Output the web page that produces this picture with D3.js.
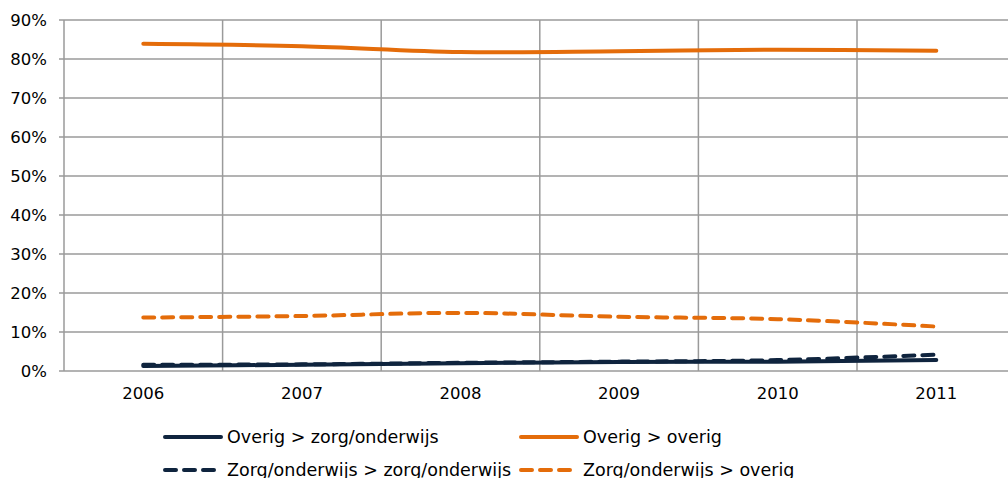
<!DOCTYPE html>
<html>
<head>
<meta charset="utf-8">
<script src="https://cdn.jsdelivr.net/npm/d3@7"></script>
<style>
  body { margin: 0; background: #fff; }
  text { font-family: "DejaVu Sans", Verdana, sans-serif; fill: #000; }
</style>
</head>
<body>
<div id="chart"></div>
<script>
// data
let years = ["2006", "2007", "2008", "2009", "2010", "2011"];
let overigZorg = [1.3, 1.6, 2.0, 2.3, 2.4, 2.8];
let overigOverig = [83.9, 83.3, 81.8, 82.0, 82.4, 82.1];
let zorgZorg = [1.6, 1.7, 2.1, 2.4, 2.8, 4.2];
let zorgOverig = [13.7, 14.1, 14.9, 13.9, 13.3, 11.4];
let yTicks = [0, 10, 20, 30, 40, 50, 60, 70, 80, 90];

let navy = "#0F243E";
let orange = "#E46C0A";
let grid = "#9a9a9a";

let series = [
    {name: "Overig > zorg/onderwijs", values: overigZorg, color: navy, dash: null},
    {name: "Overig > overig", values: overigOverig, color: orange, dash: null},
    {name: "Zorg/onderwijs > zorg/onderwijs", values: zorgZorg, color: navy, dash: "11,8"},
    {name: "Zorg/onderwijs > overig", values: zorgOverig, color: orange, dash: "11,8"}
];

let W = 1008, H = 478;
let plotLeft = 64, plotTop = 20, plotBottom = 371, plotRight = 1015.6;

let svg = d3.select("#chart")
    .append("svg")
        .attr("width", W)
        .attr("height", H);

// scales
let x = d3.scaleBand()
    .domain(years)
    .range([plotLeft, plotRight])
    .padding(0);

let y = d3.scaleLinear()
    .domain([0, 90])
    .range([plotBottom, plotTop]);

// horizontal grid
svg.append("g")
    .selectAll("line")
    .data(yTicks)
    .enter()
    .append("line")
    .attr("x1", plotLeft - 5)
    .attr("x2", plotRight)
    .attr("y1", d => y(d))
    .attr("y2", d => y(d))
    .attr("stroke", grid)
    .attr("stroke-width", 1.5);

// vertical grid on band boundaries
svg.append("g")
    .selectAll("line")
    .data(years)
    .enter()
    .append("line")
    .attr("x1", d => x(d))
    .attr("x2", d => x(d))
    .attr("y1", plotTop)
    .attr("y2", plotBottom)
    .attr("stroke", grid)
    .attr("stroke-width", 1.5);

// Y axis labels
svg.append("g")
    .selectAll("text")
    .data(yTicks)
    .enter()
    .append("text")
    .attr("x", 47)
    .attr("y", d => y(d))
    .attr("dy", "0.36em")
    .attr("text-anchor", "end")
    .style("font-size", "16.5px")
    .text(d => d + "%");

// X axis labels
svg.append("g")
    .selectAll("text")
    .data(years)
    .enter()
    .append("text")
    .attr("x", d => x(d) + x.bandwidth() / 2)
    .attr("y", 399)
    .attr("text-anchor", "middle")
    .style("font-size", "16.5px")
    .text(d => d);

// lines
let line = d3.line()
    .x((d, i) => x(years[i]) + x.bandwidth() / 2)
    .y(d => y(d))
    .curve(d3.curveCatmullRom);

svg.append("g")
    .selectAll("path")
    .data(series)
    .enter()
    .append("path")
    .attr("d", d => line(d.values))
    .attr("fill", "none")
    .attr("stroke", d => d.color)
    .attr("stroke-width", 4)
    .attr("stroke-linecap", "round")
    .attr("stroke-dasharray", d => d.dash);

// legend
let legendPos = [[165, 437], [521, 437], [165, 470], [521, 470]];
let legend = svg.append("g")
    .selectAll("g")
    .data(series)
    .enter()
    .append("g")
    .attr("transform", (d, i) => "translate(" + legendPos[i][0] + "," + legendPos[i][1] + ")");

legend.append("line")
    .attr("x1", 0)
    .attr("x2", d => d.dash ? 50 : 56)
    .attr("y1", 0)
    .attr("y2", 0)
    .attr("stroke", d => d.color)
    .attr("stroke-width", 4)
    .attr("stroke-linecap", "round")
    .attr("stroke-dasharray", d => d.dash);

legend.append("text")
    .attr("x", 62)
    .attr("y", 6)
    .style("font-size", "17.5px")
    .text(d => d.name);
</script>
</body>
</html>
